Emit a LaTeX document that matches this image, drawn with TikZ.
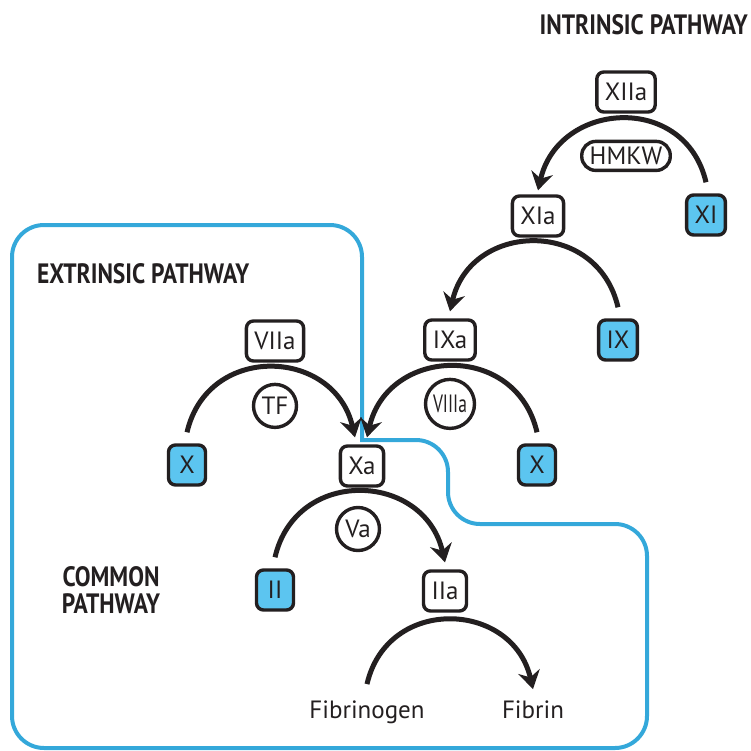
\documentclass[tikz,border=0pt]{standalone}
\usepackage{fontspec}
\setmainfont{PT Sans}
\newfontfamily\headfont[FakeStretch=0.84]{PT Sans}
\newfontfamily\squeezefont[FakeStretch=0.7]{PT Sans}
\usepackage{xcolor}
\usepackage{tikz}
\usetikzlibrary{arrows.meta}
\usetikzlibrary{positioning}

\definecolor{ink}{RGB}{35,31,32}
\definecolor{pathblue}{RGB}{52,168,218}
\definecolor{zymo}{RGB}{92,197,240}

\begin{document}
\begin{tikzpicture}[x=1pt, y=-1pt, color=ink,
        font=\fontsize{25}{28}\selectfont,
        factor/.style={draw, line width=3.4pt, rounded corners=7pt, fill=white,
            minimum width=37pt, minimum height=40pt, inner xsep=8pt, inner ysep=0pt},
        zymogen/.style={factor, fill=zymo},
        cofactor/.style={draw, circle, line width=3.4pt, fill=white,
            inner sep=0pt, minimum size=43pt},
        heading/.style={font=\headfont\bfseries\fontsize{28}{27}\selectfont,
            inner sep=0pt},
        conv/.style={line width=5pt, looseness=1.4,
            -{Stealth[length=18pt, width=22pt, inset=6pt]}}]

        \useasboundingbox (0,0) rectangle (750,751);

        \def\lift{11pt}
        \def\drop{7pt}
        \def\g{20pt}

        % blue outline first, the arrows sit on top of it
        \draw[pathblue, line width=4pt, rounded corners=32pt, line cap=rect]
            (362,440) -- (448,440) -- (448,524) -- (647,524) -- (647,748)
            -- (12,748) -- (12,225) -- (362,225) -- (362,440);

        \begin{scope}
            \node[heading, anchor=east] (intr) at (748,25) {INTRINSIC PATHWAY};
            \node[heading, anchor=west] (extr) at (37,274) {EXTRINSIC PATHWAY};
            \node[heading, align=center] (comm) at (111,590) {COMMON\\PATHWAY};

            \node[factor] (XIIa) at (626,92) {XIIa};
            \node[factor, rounded corners=14pt, minimum height=29pt]
            (HMKW) [below=26pt of XIIa] {HMKW};
            \node[factor] (XIa) at (538,216) {XIa};
            \node[zymogen] (XI) at (706,215) {XI};

            \node[factor] (IXa) at (450,340) {IXa};
            \node[zymogen] (IX) at (618,340) {IX};
            \node[factor] (VIIa) at (275,341) {VIIa};
            \node[cofactor] (TF) [below=\g of VIIa] {TF};
            \node[cofactor, minimum size=49pt] (VIIIa) [below=16pt of IXa]
            {\squeezefont VIIIa};

            \node[zymogen] (Xe) at (187,465) {X};
            \node[factor] (Xa) at (362,466) {Xa};
            \node[zymogen] (Xi) at (537,465) {X};
            \node[cofactor] (Va) at (358,529) {Va};

            \node[zymogen] (II) at (275,590) {II};
            \node[factor] (IIa) at (445,591) {IIa};
            \node[anchor=base, inner sep=0pt] (Fgen) at (367,718) {Fibrinogen};
            \node[anchor=base, inner sep=0pt] (Fin) at (533,718) {Fibrin};
        \end{scope}

        \begin{scope}[conv]
            \draw ([yshift=\lift]XI.north) to[out=103, in=77]
                ([yshift=4pt]XIa.north);
            \draw ([yshift=\lift]IX.north) to[out=103, in=77]
                ([yshift=\drop]IXa.north);
            \draw ([yshift=\lift]Xe.north) to[out=77, in=103]
                ([xshift=-7pt, yshift=\drop]Xa.north);
            \draw ([yshift=\lift]Xi.north) to[out=103, in=77]
                ([xshift=5pt, yshift=\drop]Xa.north);
            \draw ([yshift=\lift]II.north) to[out=77, in=103]
                ([yshift=\drop]IIa.north);
            \draw ([yshift=16pt]Fgen.north) to[out=77, in=103]
                ([yshift=11pt]Fin.north);
        \end{scope}

\end{tikzpicture}
\end{document}
